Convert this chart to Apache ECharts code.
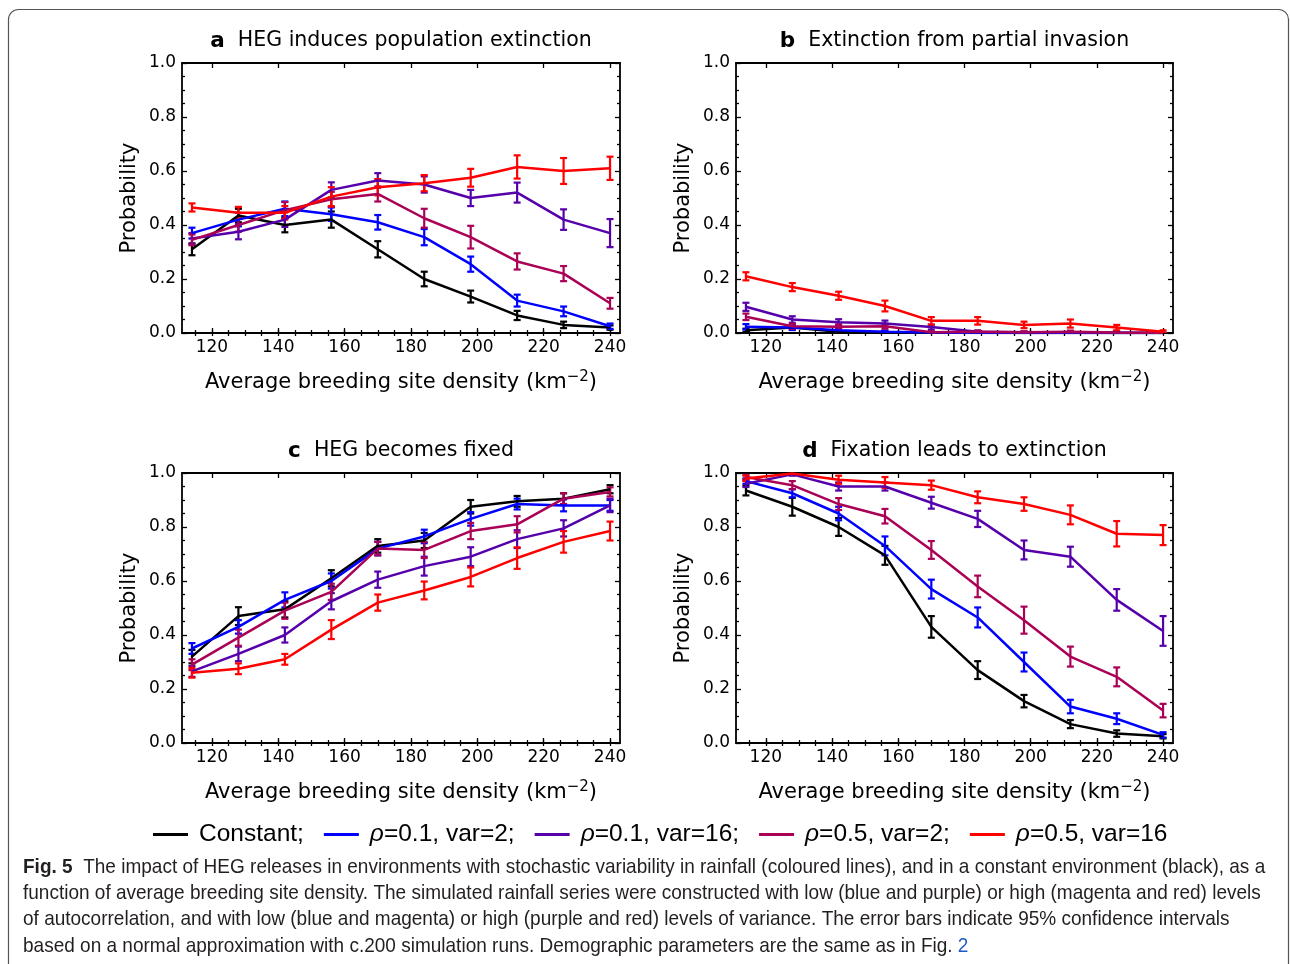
<!DOCTYPE html>
<html>
<head>
<meta charset="utf-8">
<title>Fig. 5</title>
<script src="https://cdn.jsdelivr.net/npm/echarts@6/dist/echarts.min.js"></script>
<style>
  html, body { margin: 0; padding: 0; background: #fff; }
  #main { width: 1290px; height: 964px; }
</style>
</head>
<body>
<div id="main"></div>
<script>
// x values (average breeding site density) shared by all panels
const density = [114, 128, 142, 156, 170, 184, 198, 212, 226, 240];
const xTicks = [120, 140, 160, 180, 200, 220, 240];
const yTicks = [0, 0.2, 0.4, 0.6, 0.8, 1.0];
const seriesNames = ['Constant', 'ρ=0.1, var=2', 'ρ=0.1, var=16', 'ρ=0.5, var=2', 'ρ=0.5, var=16'];
const panelTitles = ['a', 'b', 'c', 'd'];
const panelTexts = ['HEG induces population extinction', 'Extinction from partial invasion', 'HEG becomes fixed', 'Fixation leads to extinction'];

// a: HEG induces population extinction
const aConst = [0.31, 0.435, 0.40, 0.42, 0.31, 0.20, 0.135, 0.065, 0.03, 0.02];
const aConstErr = [0.022, 0.025, 0.027, 0.03, 0.03, 0.027, 0.022, 0.017, 0.012, 0.008];
const aBlue = [0.37, 0.42, 0.46, 0.44, 0.41, 0.355, 0.255, 0.12, 0.08, 0.025];
const aBlueErr = [0.02, 0.025, 0.027, 0.025, 0.027, 0.03, 0.028, 0.022, 0.018, 0.01];
const aPurple = [0.35, 0.375, 0.42, 0.53, 0.565, 0.55, 0.50, 0.52, 0.42, 0.37];
const aPurpleErr = [0.02, 0.028, 0.027, 0.028, 0.027, 0.03, 0.03, 0.037, 0.038, 0.052];
const aMagenta = [0.345, 0.40, 0.455, 0.495, 0.515, 0.425, 0.355, 0.265, 0.22, 0.11];
const aMagentaErr = [0.02, 0.025, 0.03, 0.028, 0.028, 0.035, 0.042, 0.03, 0.028, 0.02];
const aRed = [0.465, 0.445, 0.445, 0.505, 0.54, 0.555, 0.575, 0.615, 0.60, 0.61];
const aRedErr = [0.015, 0.022, 0.025, 0.035, 0.03, 0.03, 0.033, 0.043, 0.048, 0.043];

// b: Extinction from partial invasion
const bConst = [0.01, 0.02, 0.005, 0.003, 0.002, 0.001, 0, 0, 0, 0];
const bConstErr = [0.006, 0.007, 0.004, 0.003, 0.002, 0.001, 0, 0, 0, 0];
const bBlue = [0.023, 0.02, 0.01, 0.005, 0.002, 0, 0, 0, 0, 0];
const bBlueErr = [0.01, 0.009, 0.006, 0.004, 0.002, 0, 0, 0, 0, 0];
const bPurple = [0.097, 0.05, 0.04, 0.035, 0.022, 0.005, 0.003, 0.003, 0, 0];
const bPurpleErr = [0.015, 0.012, 0.011, 0.011, 0.009, 0.004, 0.003, 0.003, 0, 0];
const bMagenta = [0.06, 0.025, 0.023, 0.025, 0.003, 0.005, 0.003, 0.005, 0.002, 0];
const bMagentaErr = [0.012, 0.009, 0.009, 0.009, 0.003, 0.004, 0.003, 0.004, 0.002, 0];
const bRed = [0.21, 0.17, 0.138, 0.10, 0.045, 0.045, 0.03, 0.035, 0.02, 0.005];
const bRedErr = [0.015, 0.015, 0.015, 0.02, 0.014, 0.014, 0.012, 0.015, 0.01, 0.005];

// c: HEG becomes fixed
const cConst = [0.32, 0.47, 0.495, 0.61, 0.73, 0.75, 0.875, 0.895, 0.905, 0.94];
const cConstErr = [0.025, 0.033, 0.03, 0.03, 0.025, 0.028, 0.025, 0.02, 0.02, 0.015];
const cBlue = [0.35, 0.43, 0.53, 0.60, 0.72, 0.765, 0.83, 0.885, 0.88, 0.88];
const cBlueErr = [0.02, 0.025, 0.028, 0.028, 0.025, 0.025, 0.025, 0.02, 0.022, 0.02];
const cPurple = [0.265, 0.33, 0.40, 0.525, 0.605, 0.655, 0.69, 0.755, 0.795, 0.88];
const cPurpleErr = [0.02, 0.027, 0.028, 0.03, 0.03, 0.035, 0.035, 0.033, 0.03, 0.025];
const cMagenta = [0.29, 0.39, 0.49, 0.56, 0.72, 0.715, 0.785, 0.81, 0.905, 0.93];
const cMagentaErr = [0.02, 0.03, 0.03, 0.03, 0.025, 0.03, 0.03, 0.03, 0.02, 0.017];
const cRed = [0.26, 0.275, 0.31, 0.42, 0.52, 0.565, 0.615, 0.685, 0.745, 0.785];
const cRedErr = [0.018, 0.02, 0.02, 0.035, 0.03, 0.033, 0.035, 0.04, 0.04, 0.035];

// d: Fixation leads to extinction
const dConst = [0.935, 0.875, 0.80, 0.695, 0.43, 0.27, 0.155, 0.07, 0.035, 0.025];
const dConstErr = [0.018, 0.033, 0.033, 0.035, 0.04, 0.033, 0.023, 0.015, 0.012, 0.008];
const dBlue = [0.97, 0.925, 0.85, 0.73, 0.57, 0.465, 0.30, 0.135, 0.09, 0.03];
const dBlueErr = [0.01, 0.015, 0.025, 0.035, 0.035, 0.037, 0.035, 0.025, 0.02, 0.01];
const dPurple = [0.96, 0.995, 0.95, 0.95, 0.89, 0.83, 0.715, 0.69, 0.53, 0.415];
const dPurpleErr = [0.012, 0.005, 0.015, 0.015, 0.022, 0.03, 0.035, 0.037, 0.04, 0.055];
const dMagenta = [0.985, 0.955, 0.885, 0.84, 0.715, 0.58, 0.455, 0.32, 0.245, 0.12];
const dMagentaErr = [0.008, 0.015, 0.022, 0.027, 0.033, 0.04, 0.05, 0.037, 0.035, 0.025];
const dRed = [0.98, 0.998, 0.975, 0.965, 0.955, 0.91, 0.885, 0.845, 0.775, 0.77];
const dRedErr = [0.01, 0.005, 0.015, 0.02, 0.017, 0.022, 0.025, 0.035, 0.047, 0.037];

const panels = [
  [[aConst, aConstErr], [aBlue, aBlueErr], [aPurple, aPurpleErr], [aMagenta, aMagentaErr], [aRed, aRedErr]],
  [[bConst, bConstErr], [bBlue, bBlueErr], [bPurple, bPurpleErr], [bMagenta, bMagentaErr], [bRed, bRedErr]],
  [[cConst, cConstErr], [cBlue, cBlueErr], [cPurple, cPurpleErr], [cMagenta, cMagentaErr], [cRed, cRedErr]],
  [[dConst, dConstErr], [dBlue, dBlueErr], [dPurple, dPurpleErr], [dMagenta, dMagentaErr], [dRed, dRedErr]]
];

const colors = ['#000000', '#0000ff', '#5500aa', '#aa0055', '#ff0000'];
const grids = [
  {left: 182, top: 63, width: 438, height: 270},
  {left: 736, top: 63, width: 437, height: 270},
  {left: 182, top: 473, width: 438, height: 270},
  {left: 736, top: 473, width: 437, height: 270}
];
const xMin = 111, xMax = 243;
const xMinorTicks = [];
for (let v = 115; v <= 240; v += 5) xMinorTicks.push(v);

const FONT = 'DejaVu Sans';
const axisLineStyle = {color: '#000', width: 1.8};
const tickStyle = {color: '#000', width: 1.3};

const xAxes = [], yAxes = [], series = [];

grids.forEach((g, gi) => {
  ['bottom', 'top'].forEach(pos => {
    xAxes.push({
      type: 'value', gridIndex: gi, min: xMin, max: xMax, position: pos,
      axisLine: {show: true, onZero: false, lineStyle: axisLineStyle},
      axisTick: {show: true, inside: true, length: 5, customValues: xTicks, lineStyle: tickStyle},
      axisLabel: {show: pos === 'bottom', customValues: xTicks, color: '#000', fontSize: 17, fontFamily: FONT, margin: 6},
      splitLine: {show: false}
    });
    xAxes.push({
      type: 'value', gridIndex: gi, min: xMin, max: xMax, position: pos,
      axisLine: {show: false},
      axisTick: {show: true, inside: true, length: 3, customValues: xMinorTicks, lineStyle: tickStyle},
      axisLabel: {show: false, customValues: xMinorTicks},
      splitLine: {show: false}
    });
  });
  ['left', 'right'].forEach(pos => {
    yAxes.push({
      type: 'value', gridIndex: gi, min: 0, max: 1, interval: 0.2, position: pos,
      axisLine: {show: true, onZero: false, lineStyle: axisLineStyle},
      axisTick: {show: true, inside: true, length: 5, lineStyle: tickStyle},
      minorTick: {show: true, splitNumber: 4, length: 3, lineStyle: tickStyle},
      axisLabel: {show: pos === 'left', customValues: yTicks, formatter: v => v.toFixed(1), color: '#000', fontSize: 17, fontFamily: FONT, margin: 6},
      splitLine: {show: false},
      minorSplitLine: {show: false}
    });
  });

  panels[gi].forEach(([vals, errs], si) => {
    series.push({
      name: seriesNames[si], type: 'line',
      xAxisIndex: gi * 4, yAxisIndex: gi * 2,
      data: density.map((x, i) => [x, vals[i]]),
      symbol: 'none', clip: true,
      lineStyle: {color: colors[si], width: 2.5},
      itemStyle: {color: colors[si]},
      animation: false
    });
    series.push({
      type: 'custom', name: 'err' + gi + si,
      xAxisIndex: gi * 4, yAxisIndex: gi * 2,
      data: density.map((x, i) => [x, vals[i] - errs[i], vals[i] + errs[i]]),
      encode: {x: 0, y: [1, 2]},
      clip: true, silent: true, animation: false,
      renderItem: (params, api) => {
        const x = api.value(0);
        const top = api.coord([x, api.value(2)]);
        const bot = api.coord([x, api.value(1)]);
        const w = 3.5;
        const style = {stroke: colors[si], lineWidth: 2.2};
        return {
          type: 'group',
          children: [
            {type: 'line', shape: {x1: top[0], y1: top[1], x2: bot[0], y2: bot[1]}, style},
            {type: 'line', shape: {x1: top[0] - w, y1: top[1], x2: top[0] + w, y2: top[1]}, style},
            {type: 'line', shape: {x1: bot[0] - w, y1: bot[1], x2: bot[0] + w, y2: bot[1]}, style}
          ]
        };
      }
    });
  });
});

// titles, axis names, caption
const graphics = [];
grids.forEach((g, gi) => {
  const cx = g.left + g.width / 2;
  graphics.push({
    type: 'text', x: cx, y: g.top - 22,
    style: {
      text: '{b|' + panelTitles[gi] + '}  ' + panelTexts[gi],
      fontSize: 20.5, fontFamily: FONT, fill: '#000', align: 'center', verticalAlign: 'middle',
      rich: {b: {fontSize: 21.5, fontWeight: 'bold', fontFamily: FONT, fill: '#000'}}
    }
  });
  graphics.push({
    type: 'text', x: cx, y: g.top + g.height + 50,
    style: {
      text: 'Average breeding site density (km{s|−2})',
      fontSize: 21, fontFamily: FONT, fill: '#000', align: 'center', verticalAlign: 'middle', lineHeight: 26,
      rich: {s: {fontSize: 15, fontFamily: FONT, fill: '#000', verticalAlign: 'top', lineHeight: 26}}
    }
  });
  graphics.push({
    type: 'text', x: g.left - 52, y: g.top + g.height / 2, rotation: Math.PI / 2,
    style: {text: 'Probability', fontSize: 21, fontFamily: FONT, fill: '#000', align: 'center', verticalAlign: 'middle'}
  });
});

const CAP_FONT = "'Liberation Sans', Arial, sans-serif";
const captionLines = [
  '{b|Fig. 5}  The impact of HEG releases in environments with stochastic variability in rainfall (coloured lines), and in a constant environment (black), as a',
  'function of average breeding site density. The simulated rainfall series were constructed with low (blue and purple) or high (magenta and red) levels',
  'of autocorrelation, and with low (blue and magenta) or high (purple and red) levels of variance. The error bars indicate 95% confidence intervals',
  'based on a normal approximation with c.200 simulation runs. Demographic parameters are the same as in Fig. {l|2}'
];
const captionY = [867, 893, 919, 946];
captionLines.forEach((t, i) => {
  graphics.push({
    type: 'text', x: 23, y: captionY[i], scaleX: 0.905,
    style: {
      text: t, fontSize: 21, fontFamily: CAP_FONT, fill: '#231f20',
      align: 'left', verticalAlign: 'middle',
      rich: {
        b: {fontSize: 21, fontWeight: 'bold', fontFamily: CAP_FONT, fill: '#231f20'},
        l: {fontSize: 21, fontFamily: CAP_FONT, fill: '#1f5bc6'}
      }
    }
  });
});

graphics.push({
  type: 'rect', z: -10,
  shape: {x: 8.5, y: 9.5, width: 1280, height: 1000, r: 10},
  style: {fill: 'none', stroke: '#555', lineWidth: 1.2}
});

const LEG_FONT = 'Liberation Sans';
const chart = echarts.init(document.getElementById('main'), null, {renderer: 'canvas'});
chart.setOption({
  backgroundColor: '#fff',
  animation: false,
  grid: grids,
  xAxis: xAxes,
  yAxis: yAxes,
  legend: {
    data: seriesNames.map(n => ({name: n, icon: 'rect'})),
    left: 153, top: 822, padding: 0,
    itemWidth: 35, itemHeight: 3, itemGap: 20,
    textStyle: {
      fontSize: 24.5, fontFamily: LEG_FONT, color: '#000', padding: [0, 0, 0, 6],
      rich: {i: {fontSize: 24.5, fontFamily: LEG_FONT, fontStyle: 'italic', color: '#000'}}
    },
    formatter: n => n === 'Constant' ? 'Constant;' : n.replace('ρ', '{i|ρ}') + (n === 'ρ=0.5, var=16' ? '' : ';'),
    selectedMode: false
  },
  graphic: graphics,
  series: series
});
</script>
</body>
</html>
